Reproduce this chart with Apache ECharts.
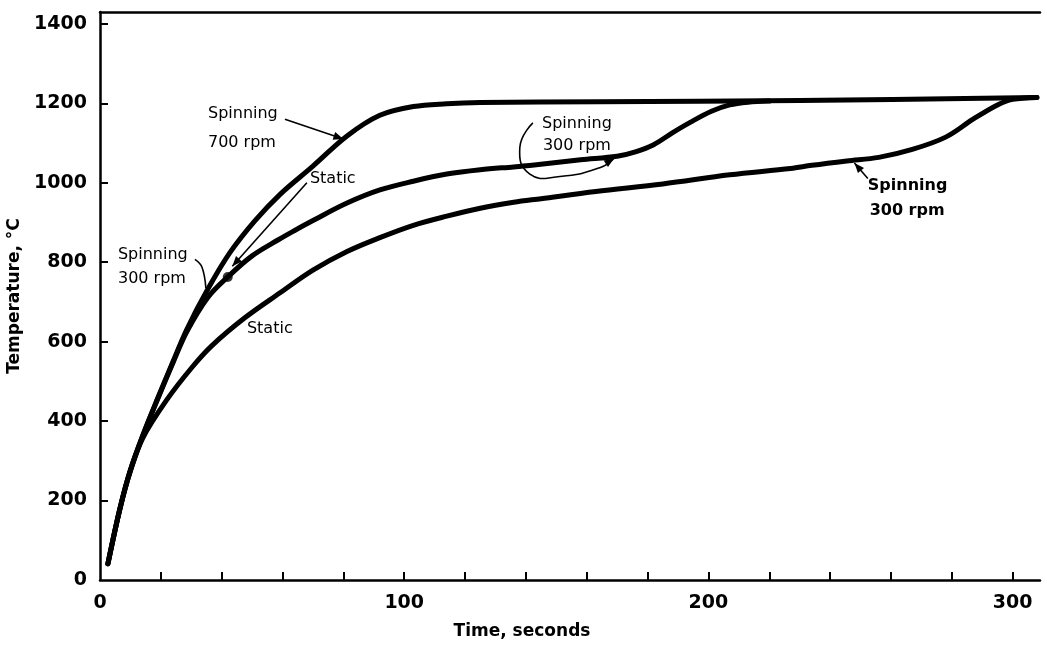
<!DOCTYPE html>
<html><head><meta charset="utf-8">
<script src="https://cdn.jsdelivr.net/npm/echarts@6/dist/echarts.min.js"></script>
<style>html,body{margin:0;padding:0;background:#fff}#c{width:1047px;height:647px}</style>
</head><body><div id="c"></div>
<script>
// time (s), temperature (°C)
const spin700 = [[2.6,41],[6.6,181],[9.9,275],[14.1,365],[19.1,460],[24,550],[28.6,632],[35.5,733],[42.7,824],[50.9,904],[59.2,971],[70,1042],[81.2,1118],[92,1170],[103,1192],[114,1199],[125,1202],[164,1204],[230,1207],[308,1215]];
const spin300Static = [[2.6,41],[6.6,181],[9.9,274],[14.1,364],[19.1,458],[24,547],[28.6,626],[35.5,712],[42,763],[50,816],[58.5,856],[64,880],[70,905],[81.2,949],[92,982],[103,1004],[114,1022],[125,1033],[136,1040],[142,1044],[158,1058],[170,1067],[176,1078],[182,1096],[188,1125],[194,1152],[201,1180],[207,1196],[213,1203],[220,1206]];
const staticSpin300 = [[2.6,41],[6.6,181],[9.9,272],[14.1,358],[22,454],[30.2,535],[36.8,590],[47.6,660],[59.2,723],[70,780],[81.2,827],[92,862],[103,893],[114,916],[125,936],[136,951],[145,960],[163,978],[185,997],[207,1020],[227,1036],[234,1044],[245.5,1055],[256,1064],[267,1084],[278,1115],[287,1160],[295,1196],[300,1210],[308,1215]];
const switchPoint = [42,763];
const xTickValues = [20,40,60,80,100,120,140,160,180,200,220,240,260,280,300];
const xLabelValues = [0,100,200,300];
const yTickValues = [200,400,600,800,1000,1200,1400];
const yLabelValues = [0,200,400,600,800,1000,1200,1400];
const labels = [
  {text:'Spinning', at:[35.5,1173]}, {text:'700 rpm', at:[35.5,1100]},
  {text:'Static', at:[69,1011]},
  {text:'Spinning', at:[5.9,818]}, {text:'300 rpm', at:[5.9,758]},
  {text:'Static', at:[48.3,632]},
  {text:'Spinning', at:[145.3,1149]}, {text:'300 rpm', at:[145.6,1093]},
  {text:'Spinning', at:[252.4,993], bold:true}, {text:'300 rpm', at:[253,929], bold:true}
];
const leaders = [
  {pts:[[60.8,1160],[80,1110]], head:true},
  {pts:[[68,1000],[43.5,790]], head:true},
  {pts:[[31.2,807],[33.5,788],[34.8,735]], head:false, smooth:0.4},
  {pts:[[142.3,1151],[138,1089],[141.3,1022],[151.2,1016],[164.3,1038],[169,1062]], head:true, smooth:0.5},
  {pts:[[252.4,1011],[248,1050]], head:true}
];

const FF = 'DejaVu Sans';
const axisLineStyle = {color:'#000', width:2.5};
const lineStyle = {color:'#000', width:5, cap:'round', join:'round'};
const chart = echarts.init(document.getElementById('c'), null, {renderer:'canvas'});
chart.setOption({
  animation:false,
  backgroundColor:'#fff',
  grid:{left:100, right:7, top:12, bottom:67, outerBoundsMode:'none', containLabel:false},
  xAxis:[{
    type:'value', min:0, max:309,
    axisLine:{show:true, lineStyle:axisLineStyle},
    axisTick:{show:true, inside:true, length:8, lineStyle:{color:'#000', width:2}, customValues:xTickValues},
    axisLabel:{customValues:xLabelValues, formatter:v=>String(v), color:'#000', fontSize:19, fontWeight:'bold', fontFamily:FF, margin:14},
    splitLine:{show:false}
  },{
    type:'value', min:0, max:309, position:'top',
    axisLine:{show:true, onZero:false, lineStyle:axisLineStyle},
    axisTick:{show:false}, axisLabel:{show:false}, splitLine:{show:false}
  }],
  yAxis:{
    type:'value', min:0, max:1430,
    name:'Temperature, °C', nameLocation:'middle', nameGap:66,
    nameTextStyle:{color:'#000', fontSize:17, fontWeight:'bold', fontFamily:FF},
    axisLine:{show:true, onZero:false, lineStyle:axisLineStyle},
    axisTick:{show:true, inside:true, length:8, lineStyle:{color:'#000', width:2}, customValues:yTickValues},
    axisLabel:{customValues:yLabelValues, formatter:v=>String(v), color:'#000', fontSize:19, fontWeight:'bold', fontFamily:FF, margin:13},
    splitLine:{show:false}
  },
  series:[
    {name:'Spinning 700 rpm', type:'line', data:spin700, smooth:0.35, symbol:'none', lineStyle:lineStyle},
    {name:'Spinning 300 rpm / Static / Spinning 300 rpm', type:'line', data:spin300Static, smooth:0.35, symbol:'none', lineStyle:lineStyle},
    {name:'Static / Spinning 300 rpm', type:'line', data:staticSpin300, smooth:0.35, symbol:'none', lineStyle:lineStyle},
    {name:'switch', type:'scatter', data:[switchPoint], symbolSize:10, itemStyle:{color:'#000'}}
  ]
});

function px(p){ return chart.convertToPixel({xAxisIndex:0, yAxisIndex:0}, p); }
const g = [];
labels.forEach(l => {
  const p = px(l.at);
  g.push({type:'text', x:p[0], y:p[1], style:{text:l.text, fill:'#000', font:(l.bold?'bold ':'')+'16px "'+FF+'"', align:'left', verticalAlign:'middle'}});
});
leaders.forEach(ld => {
  const pts = ld.pts.map(px);
  g.push({type:'polyline', shape:{points:pts, smooth:ld.smooth||0}, style:{stroke:'#000', lineWidth:1.6, fill:null}});
  if (ld.head) {
    const a = pts[pts.length-2], b = pts[pts.length-1];
    const dx = b[0]-a[0], dy = b[1]-a[1], L = Math.hypot(dx,dy)||1;
    const ux = dx/L, uy = dy/L, hl = 10, hw = 4;
    const bx = b[0]-ux*hl, by = b[1]-uy*hl;
    g.push({type:'polygon', shape:{points:[[b[0],b[1]],[bx-uy*hw,by+ux*hw],[bx+uy*hw,by-ux*hw]]}, style:{fill:'#000'}});
  }
});
g.push({type:'text', x:522, y:632, style:{text:'Time, seconds', fill:'#000', font:'bold 17px "'+FF+'"', align:'center', verticalAlign:'middle'}});
chart.setOption({graphic:g});
</script></body></html>
